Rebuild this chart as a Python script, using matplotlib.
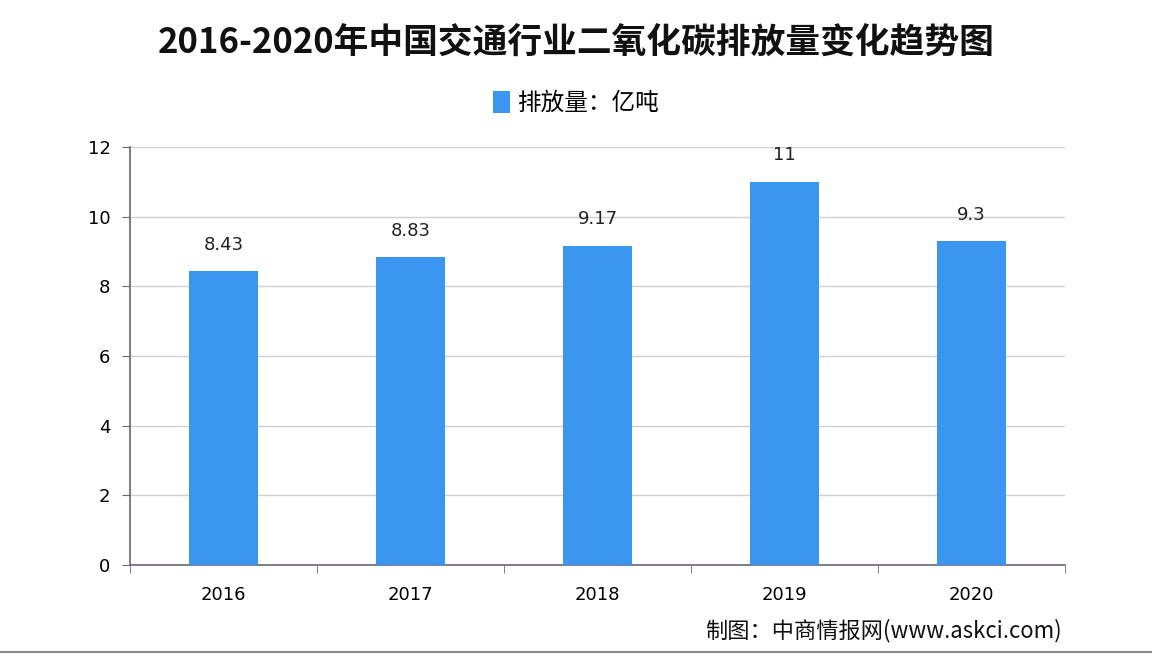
import numpy as np
import matplotlib.pyplot as plt

plt.rcParams['font.family'] = ['Noto Sans CJK SC', 'DejaVu Sans']

years = ['2016', '2017', '2018', '2019', '2020']
emissions = [8.43, 8.83, 9.17, 11, 9.3]
value_labels = ['8.43', '8.83', '9.17', '11', '9.3']

fig = plt.figure(figsize=(11.52, 6.58), dpi=100)
ax = fig.add_axes([0.1128, 0.1413, 0.8117, 0.6353])

x = np.arange(len(years))
ax.bar(x, emissions, width=0.37, color='#3a96ee', zorder=3, label='排放量：亿吨')

for xi, v, lab in zip(x, emissions, value_labels):
    ax.text(xi, v + 0.5, lab, ha='center', va='bottom', fontsize=13,
            family=['DejaVu Sans'], color='#222222')

ax.set_xlim(-0.5, len(years) - 0.5)
ax.set_ylim(0, 12)
ax.set_yticks(range(0, 13, 2))
ax.set_xticks(x)
ax.set_xticklabels(years, family=['DejaVu Sans'], fontsize=13)
ax.set_xticks(np.arange(-0.5, len(years), 1), minor=True)
ax.tick_params(axis='x', which='major', length=0, pad=15)
ax.tick_params(axis='x', which='minor', length=6, color='#6d6478')
ax.tick_params(axis='y', length=6, color='#6d6478', labelsize=13, pad=8)
for lab in ax.get_yticklabels():
    lab.set_family(['DejaVu Sans'])

ax.grid(axis='y', color='#cfcfd4', linewidth=1, zorder=0)
for side in ['top', 'right']:
    ax.spines[side].set_visible(False)
for side in ['left', 'bottom']:
    ax.spines[side].set_color('#6d6478')
    ax.spines[side].set_linewidth(1.2)

fig.text(0.5, 0.935, '2016-2020年中国交通行业二氧化碳排放量变化趋势图', ha='center',
         va='center', fontsize=25, fontweight='bold', color='#111111')
fig.legend(loc='center', bbox_to_anchor=(0.5, 0.843), frameon=False, fontsize=17,
           handlelength=0.7, handleheight=1.0, handletextpad=0.3)
fig.text(0.922, 0.042, '制图：中商情报网(www.askci.com)', ha='right', va='center',
         fontsize=16, color='#111111')

# thin border line like the screenshot frame
fig.add_artist(plt.Line2D([0, 1], [0.009, 0.009], transform=fig.transFigure,
                          color='#8a8a8a', linewidth=1.5))

fig.savefig('out.png', dpi=100, facecolor='white')
